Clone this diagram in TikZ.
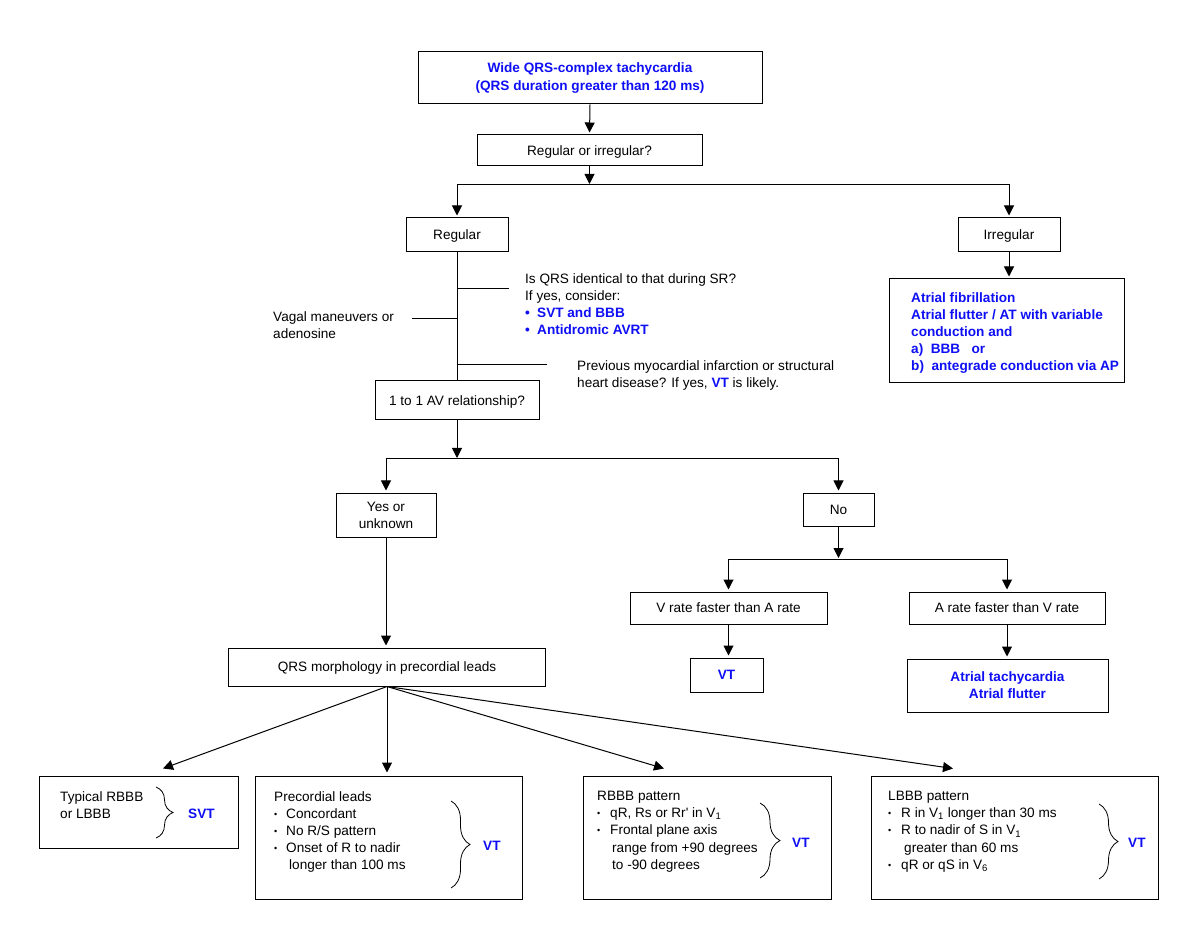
\documentclass[tikz,border=0pt]{standalone}
\usepackage{fontspec}
\setmainfont{Liberation Sans}
\usetikzlibrary{arrows.meta,calc,decorations.pathreplacing}
\definecolor{ecgblue}{RGB}{15,15,245}
\newcommand{\mybul}[1]{\makebox[#1][l]{\raisebox{1pt}{\fontsize{9}{9}\selectfont\textbullet}}}
\newcommand{\bigbul}{\makebox[12pt][l]{\textbullet}}
\begin{document}
\begin{tikzpicture}[x=1pt,y=-1pt,
  every node/.style={font=\fontsize{13.6}{17.2}\selectfont},
  box/.style={draw,line width=1pt,inner sep=2pt,align=center},
  sbox/.style={box,text height=9.4pt,text depth=0pt},
  arr/.style={line width=1pt,-{Triangle[width=10pt,length=10pt]},shorten >=2pt},
  ln/.style={line width=1pt},
  txt/.style={anchor=north west,inner sep=0pt,align=left},
  bl/.style={font=\fontsize{13.6}{17.2}\selectfont\bfseries,text=ecgblue},
  brc/.style={decorate,decoration={brace,amplitude=#1},line width=0.8pt}
]
\fill[white] (0,0) rectangle (1200,949);
\useasboundingbox (0,0) rectangle (1200,949);

% top part
\node[box,bl,minimum width=344pt,minimum height=52pt] (top) at (590,78) {Wide QRS-complex tachycardia\\(QRS duration greater than 120 ms)};
\node[sbox,minimum width=225pt,minimum height=31pt] (roi) at (589.5,150.5) {Regular or irregular?};
\coordinate (br1) at (589.5,185);
\node[sbox,minimum width=102pt,minimum height=34pt] (reg) at (457,235) {Regular};
\node[sbox,minimum width=102pt,minimum height=34pt] (irr) at (1009,235) {Irregular};
\node[box,minimum width=235pt,minimum height=104pt] (af) at (1006.5,331) {};
\node[txt,bl] (aft) at (911,292) {Atrial fibrillation\\Atrial flutter / AT with variable\\conduction and\\a)\ \ BBB\ \ \ or\\b)\ \ antegrade conduction via AP};

\draw[arr] (top.south) -- (roi.north);
\draw[arr,shorten >=1pt] (roi.south) -- (br1);
\draw[arr] (br1) -| (reg.north);
\draw[arr] (br1) -| (irr.north);
\draw[arr] (irr.south) -- (irr.south |- af.north);

% regular trunk
\node[sbox,minimum width=164pt,minimum height=39pt] (one) at (457,400.5) {1 to 1 AV relationship?};
\draw[ln] (reg.south) -- (one.north);
\coordinate (s1a) at (457,289); \coordinate (s1b) at (509,289);
\coordinate (s2a) at (457,319); \coordinate (s2b) at (412,319);
\coordinate (s3a) at (457,365); \coordinate (s3b) at (547,365);
\draw[ln] (s1a) -- (s1b);
\draw[ln] (s2a) -- (s2b);
\draw[ln] (s3a) -- (s3b);
\node[txt] (qid) at (525,273) {Is QRS identical to that during SR?\\If yes, consider:\\{\bfseries\color{ecgblue}\bigbul SVT and BBB}\\{\bfseries\color{ecgblue}\bigbul Antidromic AVRT}};
\node[txt] (vag) at (273,311) {Vagal maneuvers or\\adenosine};
\node[txt] (prev) at (577,360) {Previous myocardial infarction or structural\\heart disease? If yes, {\bfseries\color{ecgblue}VT} is likely.};

% AV relationship branch
\coordinate (br2) at (457,459);
\node[box,minimum width=100pt,minimum height=44pt] (yes) at (386,515) {Yes or\\unknown};
\node[sbox,minimum width=71pt,minimum height=33pt] (no) at (838.5,509.5) {No};
\draw[arr,shorten >=1pt] (one.south) -- (br2);
\draw[arr] (br2) -| (yes.north);
\draw[arr] (br2) -| (no.north);

\node[sbox,minimum width=317pt,minimum height=38pt] (qrs) at (387,667) {QRS morphology in precordial leads};
\draw[arr] (yes.south) -- (yes.south |- qrs.north);

\coordinate (br3) at (838.5,559);
\node[sbox,minimum width=197pt,minimum height=32pt] (vr) at (728.5,608) {V rate faster than A rate};
\node[sbox,minimum width=196pt,minimum height=32pt] (ar) at (1007,608) {A rate faster than V rate};
\draw[arr,shorten >=1pt] (no.south) -- (br3);
\draw[arr] (br3) -| (vr.north);
\draw[arr] (br3) -| (ar.north);
\node[sbox,bl,minimum width=73pt,minimum height=34pt] (vt) at (726.5,675) {VT};
\node[box,bl,minimum width=201pt,minimum height=53pt] (at) at (1007.5,685.5) {Atrial tachycardia\\Atrial flutter};
\draw[arr] (vr.south) -- (vr.south |- vt.north);
\draw[arr] (ar.south) -- (ar.south |- at.north);

% bottom boxes
\node[box,minimum width=199pt,minimum height=72pt] (b1) at (138.5,812) {};
\node[box,minimum width=267pt,minimum height=123pt] (b2) at (388.5,837.5) {};
\node[box,minimum width=248pt,minimum height=123pt] (b3) at (707,837.5) {};
\node[box,minimum width=287pt,minimum height=123pt] (b4) at (1014.5,837.5) {};

\draw[arr,shorten >=0pt] (qrs.south) -- ($(b1.north)+(24.5,-7)$);
\draw[arr,shorten >=3pt] (qrs.south) -- (qrs.south |- b2.north);
\draw[arr,shorten >=0pt] (qrs.south) -- ($(b3.north)+(-43,-7)$);
\draw[arr,shorten >=0pt] (qrs.south) -- ($(b4.north)+(-61.5,-7)$);

\node[txt] (t1) at (60,791) {Typical RBBB\\or LBBB};
\draw[brc=17pt] (156,787) -- (156,838);
\node[bl,anchor=west,inner sep=0pt] (svt1) at (188,814) {SVT};

\node[txt] (t2) at (274,791) {Precordial leads\\\mybul{12pt}Concordant\\\mybul{12pt}No R/S pattern\\\mybul{12pt}Onset of R to nadir\\\hspace*{15pt}longer than 100 ms};
\draw[brc=19pt] (451,801) -- (451,888);
\node[bl,anchor=west,inner sep=0pt] (vt2) at (483,846) {VT};

\node[txt] (t3) at (597,791) {RBBB pattern\\\mybul{13pt}qR, Rs or Rr\textquotesingle{} in V\textsubscript{1}\\\mybul{13pt}Frontal plane axis\\\hspace*{15pt}range from +90 degrees\\\hspace*{15pt}to -90 degrees};
\draw[brc=20pt] (760,803) -- (760,878);
\node[bl,anchor=west,inner sep=0pt] (vt3) at (792,843) {VT};

\node[txt] (t4) at (888,791) {LBBB pattern\\\mybul{13pt}R in V\textsubscript{1} longer than 30 ms\\\mybul{13pt}R to nadir of S in V\textsubscript{1}\\\hspace*{16pt}greater than 60 ms\\\mybul{13pt}qR or qS in V\textsubscript{6}};
\draw[brc=19pt] (1099,804) -- (1099,879);
\node[bl,anchor=west,inner sep=0pt] (vt4) at (1128,843) {VT};
\end{tikzpicture}
\end{document}
